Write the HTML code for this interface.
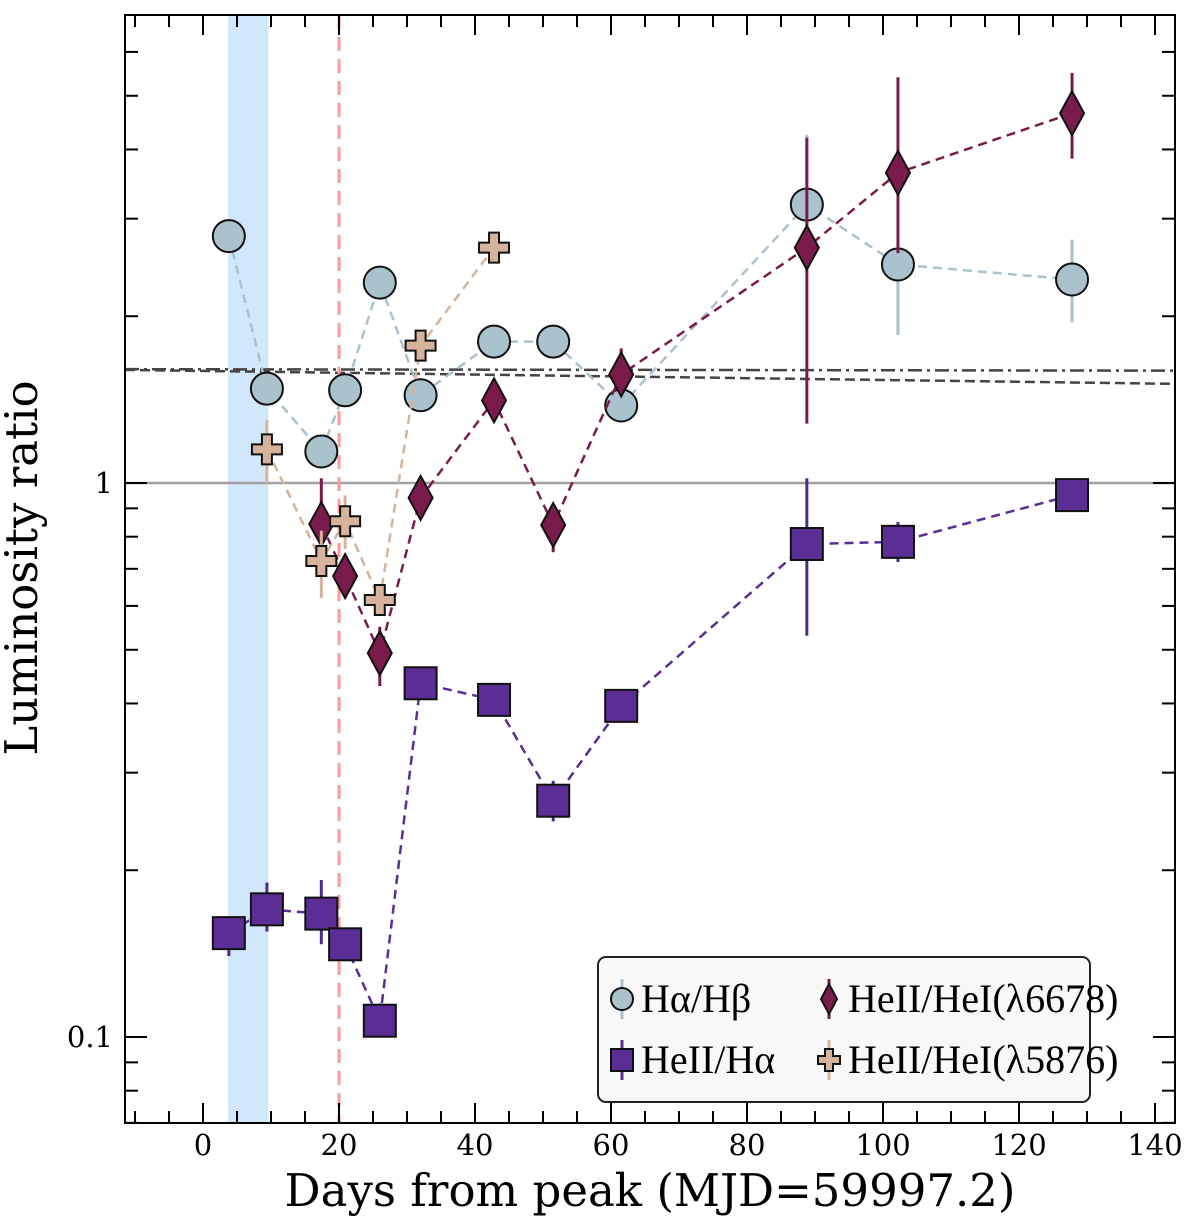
<!DOCTYPE html>
<html><head><meta charset="utf-8">
<style>
html,body{margin:0;padding:0;background:#fff;}
svg{display:block;}
</style></head>
<body>
<svg id="chart" width="1200" height="1216" viewBox="0 0 1200 1216" xmlns="http://www.w3.org/2000/svg" font-family="'DejaVu Serif','Liberation Serif',serif">
<g id="bg"></g>
<g id="grid"></g>
<g id="series"></g>
<g id="axes"></g>
<g id="legend"></g>
</svg>
<script>
// data
const hbDays = [3.8, 9.4, 17.4, 20.9, 26, 32, 42.8, 51.5, 61.5, 88.8, 102.2, 127.8];
const hbVals = [2.79, 1.48, 1.14, 1.47, 2.30, 1.44, 1.80, 1.80, 1.38, 3.18, 2.48, 2.33];
const hbLo   = [2.79, 1.48, 1.14, 1.47, 2.30, 1.44, 1.80, 1.80, 1.38, 2.45, 1.85, 1.95];
const hbHi   = [2.79, 1.48, 1.14, 1.47, 2.30, 1.44, 1.80, 1.80, 1.38, 4.25, 2.48, 2.75];

const haDays = [3.8, 9.4, 17.4, 20.9, 26, 32, 42.8, 51.5, 61.5, 88.8, 102.2, 127.8];
const haVals = [0.154, 0.170, 0.167, 0.147, 0.107, 0.435, 0.406, 0.267, 0.396, 0.776, 0.783, 0.951];
const haLo   = [0.140, 0.155, 0.147, 0.140, 0.100, 0.435, 0.406, 0.245, 0.396, 0.53, 0.72, 0.951];
const haHi   = [0.165, 0.190, 0.192, 0.155, 0.115, 0.435, 0.406, 0.290, 0.396, 1.02, 0.85, 0.951];

const h6Days = [17.4, 20.9, 26, 32, 42.8, 51.5, 61.5, 88.8, 102.2, 127.8];
const h6Vals = [0.843, 0.679, 0.493, 0.94, 1.41, 0.84, 1.57, 2.66, 3.63, 4.65];
const h6Lo   = [0.74, 0.679, 0.43, 0.94, 1.41, 0.75, 1.45, 1.28, 2.60, 3.85];
const h6Hi   = [1.02, 0.679, 0.55, 0.94, 1.41, 0.84, 1.75, 4.20, 5.40, 5.50];

const h5Days = [9.4, 17.4, 20.9, 26, 32, 42.8];
const h5Vals = [1.15, 0.723, 0.853, 0.615, 1.77, 2.66];
const h5Lo   = [1.00, 0.62, 0.76, 0.60, 1.70, 2.55];
const h5Hi   = [1.30, 0.82, 0.95, 0.64, 1.85, 2.80];

const xTicks = [0, 20, 40, 60, 80, 100, 120, 140];
const yTickVals = [0.1, 1];
const yTickLabels = ["0.1", "1"];

const L=125, R=1175, T=15, B=1123;
function X(d){ return 203 + d*6.8; }
function Y(v){ return 483 - Math.log10(v)*554; }
const NS="http://www.w3.org/2000/svg";
function mk(parent, tag, attrs){ const e=document.createElementNS(NS,tag); for(const k in attrs) e.setAttribute(k,attrs[k]); document.getElementById(parent).appendChild(e); return e; }

const defs=document.createElementNS(NS,'defs');
defs.innerHTML='<clipPath id="clip"><rect x="125" y="15" width="1050" height="1108"/></clipPath>';
document.getElementById('chart').prepend(defs);
document.getElementById('series').setAttribute('clip-path','url(#clip)');
document.getElementById('grid').setAttribute('clip-path','url(#clip)');

let e;
e=mk('bg','rect',{x:X(3.7),y:T,width:X(9.6)-X(3.7),height:B-T,fill:'#d2e7fb'});


e=mk('grid','line',{x1:L,x2:R,y1:Y(1),y2:Y(1),stroke:'#a0a0a0','stroke-width':2.5});


e=mk('grid','line',{x1:L,x2:R,y1:Y(1.6),y2:Y(1.51),stroke:'#444','stroke-width':2.5,'stroke-dasharray':'10,5'});


e=mk('grid','line',{x1:L,x2:R,y1:Y(1.605),y2:Y(1.595),stroke:'#444','stroke-width':2.5,'stroke-dasharray':'14,5,3,5'});


e=mk('grid','line',{x1:X(20),x2:X(20),y1:T,y2:B,stroke:'#ff9a9a','stroke-width':3,'stroke-dasharray':'14,8'});



function series(name, days, vals, lo, hi, color, ecolor, shape){
  const pts=days.map((d,i)=>X(d)+','+Y(vals[i])).join(' ');
  let p=mk('series','polyline',{points:pts,fill:'none',stroke:color,'stroke-width':2.5,'stroke-dasharray':'9,6'});
  
  
  days.forEach((d,i)=>{
    if(hi[i]!==lo[i]){
      let l=mk('series','line',{x1:X(d),x2:X(d),y1:Y(lo[i]),y2:Y(hi[i]),stroke:ecolor,'stroke-width':3});
      
      
    }
  });
  days.forEach((d,i)=>{
    const cx=X(d), cy=Y(vals[i]);
    let m;
    if(shape==='circle') m=mk('series','circle',{cx:cx,cy:cy,r:16,fill:color,stroke:'#111','stroke-width':2});
    else if(shape==='square') m=mk('series','rect',{x:cx-16,y:cy-16,width:32,height:32,fill:color,stroke:'#111','stroke-width':2});
    else if(shape==='diamond') m=mk('series','polygon',{points:`${cx},${cy-22} ${cx+12},${cy} ${cx},${cy+22} ${cx-12},${cy}`,fill:color,stroke:'#111','stroke-width':2});
    else m=mk('series','polygon',{points:`${cx-5},${cy-15} ${cx+5},${cy-15} ${cx+5},${cy-5} ${cx+15},${cy-5} ${cx+15},${cy+5} ${cx+5},${cy+5} ${cx+5},${cy+15} ${cx-5},${cy+15} ${cx-5},${cy+5} ${cx-15},${cy+5} ${cx-15},${cy-5} ${cx-5},${cy-5}`,fill:color,stroke:'#111','stroke-width':2});
    
    
  });
}
series('ha-hb',hbDays,hbVals,hbLo,hbHi,'#a9c2cc','#a9c2cc','circle');
series('heii-ha',haDays,haVals,haLo,haHi,'#5b2e95','#4b2a90','square');
series('heii-hei-6678',h6Days,h6Vals,h6Lo,h6Hi,'#7a1b4c','#7a1b4c','diamond');
series('heii-hei-5876',h5Days,h5Vals,h5Lo,h5Hi,'#d6b39c','#d6b39c','cross');

e=mk('axes','rect',{x:L,y:T,width:R-L,height:B-T,fill:'none',stroke:'#000','stroke-width':2});


for(let d=-10; d<=140; d+=5){
  const x=X(d); if(x<L||x>R) continue;
  const len = d%20===0?20:12;
  mk('axes','line',{x1:x,x2:x,y1:B,y2:B-len,stroke:'#000','stroke-width':2});
  mk('axes','line',{x1:x,x2:x,y1:T,y2:T+len,stroke:'#000','stroke-width':2});
}
xTicks.forEach(d=>{
  const t=mk('axes','text',{x:X(d),y:B+32,'text-anchor':'middle','font-size':29});
  t.textContent=d;
  
  
});
for(let dec=-2; dec<=1; dec++){
  for(let m=1;m<=9;m++){
    const v=m*Math.pow(10,dec); const y=Y(v);
    if(y<T||y>B) continue;
    const len = m===1?22:13;
    mk('axes','line',{x1:L,x2:L+len,y1:y,y2:y,stroke:'#000','stroke-width':2});
    mk('axes','line',{x1:R,x2:R-len,y1:y,y2:y,stroke:'#000','stroke-width':2});
  }
}
yTickVals.forEach((v,i)=>{
  const t=mk('axes','text',{x:L-12,y:Y(v)+10,'text-anchor':'end','font-size':29});
  t.textContent=yTickLabels[i];
  
  
});
e=mk('axes','text',{x:650,y:1206,'text-anchor':'middle','font-size':45});
e.textContent='Days from peak (MJD=59997.2)';


e=mk('axes','text',{x:0,y:0,'text-anchor':'middle','font-size':45,transform:'translate(37,568) rotate(-90)'});
e.textContent='Luminosity ratio';



e=mk('legend','rect',{x:598,y:957,width:492,height:145,rx:8,fill:'#f8f8f8',stroke:'#222','stroke-width':2});


const leg=[
  {x:622,y:999,shape:'circle',c:'#a9c2cc',label:'Hα/Hβ'},
  {x:622,y:1060,shape:'square',c:'#5b2e95',label:'HeII/Hα'},
  {x:829,y:999,shape:'diamond',c:'#7a1b4c',label:'HeII/HeI(λ6678)'},
  {x:829,y:1060,shape:'cross',c:'#d6b39c',label:'HeII/HeI(λ5876)'}
];
leg.forEach(o=>{
  const cx=o.x, cy=o.y;
  mk('legend','line',{x1:cx,x2:cx,y1:cy-20,y2:cy+20,stroke:o.c,'stroke-width':3});
  let m;
  if(o.shape==='circle') m=mk('legend','circle',{cx:cx,cy:cy,r:11,fill:o.c,stroke:'#111','stroke-width':2});
  else if(o.shape==='square') m=mk('legend','rect',{x:cx-11,y:cy-11,width:22,height:22,fill:o.c,stroke:'#111','stroke-width':2});
  else if(o.shape==='diamond') m=mk('legend','polygon',{points:`${cx},${cy-15} ${cx+8},${cy} ${cx},${cy+15} ${cx-8},${cy}`,fill:o.c,stroke:'#111','stroke-width':2});
  else m=mk('legend','polygon',{points:`${cx-4},${cy-11} ${cx+4},${cy-11} ${cx+4},${cy-4} ${cx+11},${cy-4} ${cx+11},${cy+4} ${cx+4},${cy+4} ${cx+4},${cy+11} ${cx-4},${cy+11} ${cx-4},${cy+4} ${cx-11},${cy+4} ${cx-11},${cy-4} ${cx-4},${cy-4}`,fill:o.c,stroke:'#111','stroke-width':2});
  
  
  const t=mk('legend','text',{x:cx+19,y:cy+13,'font-size':40,'font-family':"'Liberation Serif',serif"});
  t.textContent=o.label;
  
  
});
</script>
</body></html>
